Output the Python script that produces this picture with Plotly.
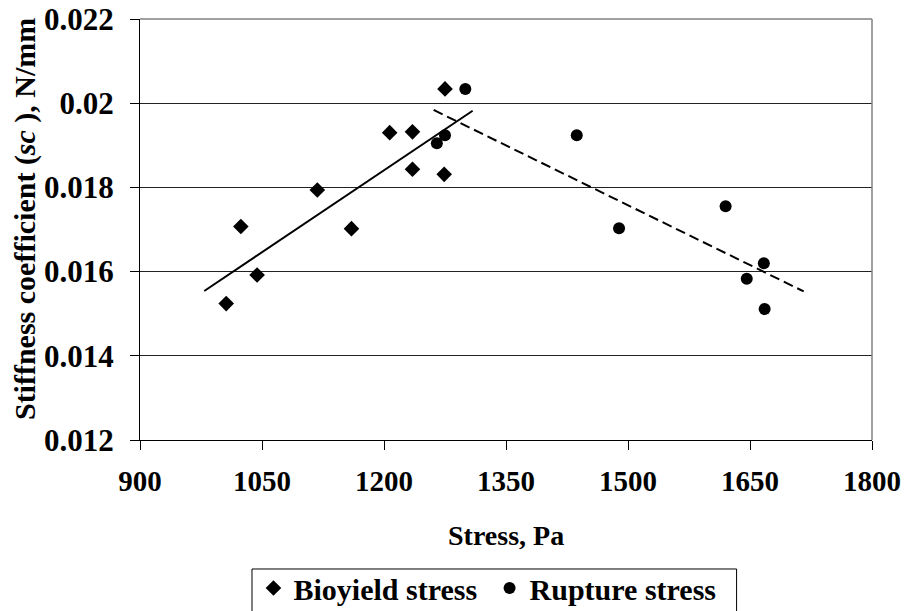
import plotly.graph_objects as go

# Bioyield stress (diamonds)
bio_x = [1006, 1024, 1044, 1118, 1160, 1207, 1235, 1235, 1274, 1275]
bio_y = [0.01524, 0.01707, 0.01592, 0.01794, 0.01702, 0.01930, 0.01932, 0.01843, 0.01831, 0.02034]

# Rupture stress (circles)
rup_x = [1265, 1275, 1300, 1437, 1489, 1620, 1646, 1667, 1668]
rup_y = [0.01905, 0.01924, 0.02034, 0.01924, 0.01703, 0.01755, 0.01583, 0.01620, 0.01511]

# Trendline end points
bio_trend_x = [979, 1309]
bio_trend_y = [0.01554, 0.01982]
rup_trend_x = [1261, 1716]
rup_trend_y = [0.01984, 0.01553]

x_ticks = [900, 1050, 1200, 1350, 1500, 1650, 1800]
y_ticks = [0.012, 0.014, 0.016, 0.018, 0.020, 0.022]
y_tick_text = ["0.012", "0.014", "0.016", "0.018", "0.02", "0.022"]

FONT = "Liberation Serif"

def f(size):
    return dict(family=FONT, size=size, color="black", weight="bold")

fig = go.Figure()
fig.add_trace(go.Scatter(x=bio_trend_x, y=bio_trend_y, mode="lines",
                         line=dict(color="black", width=2), showlegend=False, hoverinfo="skip"))
fig.add_trace(go.Scatter(x=rup_trend_x, y=rup_trend_y, mode="lines",
                         line=dict(color="black", width=2, dash="10px,5px"), showlegend=False, hoverinfo="skip"))
fig.add_trace(go.Scatter(x=bio_x, y=bio_y, mode="markers", name="Bioyield stress\u00a0",
                         marker=dict(symbol="diamond", size=12, color="black")))
fig.add_trace(go.Scatter(x=rup_x, y=rup_y, mode="markers", name="Rupture stress",
                         marker=dict(symbol="circle", size=12, color="black")))

fig.update_layout(
    width=906, height=611,
    margin=dict(l=140, r=34, t=19, b=171, autoexpand=False),
    paper_bgcolor="white", plot_bgcolor="white",
    font=f(28),
    showlegend=True,
    legend=dict(orientation="h", x=0.155, y=-0.2898, xanchor="left", yanchor="top",
                borderwidth=0, bgcolor="rgba(0,0,0,0)",
                font=f(30), itemsizing="trace", tracegroupgap=0, itemwidth=30),
    xaxis=dict(range=[900, 1800], tickvals=x_ticks, ticks="outside", ticklen=9,
               tickcolor="black", tickwidth=1, showline=True, linecolor="black", linewidth=1,
               showgrid=False, zeroline=False, ticklabelstandoff=6,
               tickfont=f(29)),
    yaxis=dict(range=[0.012, 0.022], tickvals=y_ticks, ticktext=y_tick_text,
               ticks="outside", ticklen=9, tickcolor="black", tickwidth=1,
               showline=True, linecolor="black", linewidth=1, ticklabelstandoff=10,
               showgrid=True, gridcolor="#222222", gridwidth=1, zeroline=False,
               tickfont=f(31)),
    annotations=[
        dict(text="Stiffness coefficient (<i>sc</i> ), N/mm",
             xref="paper", yref="paper", x=-0.157, y=0.525,
             xanchor="center", yanchor="middle", textangle=-90, showarrow=False,
             font=f(30)),
        dict(text="Stress, Pa",
             xref="paper", yref="paper", x=0.5, y=-0.228,
             xanchor="center", yanchor="middle", showarrow=False,
             font=f(28)),
    ],
    shapes=[dict(type="line", xref="paper", yref="paper", x0=1, x1=1, y0=0, y1=1,
                 line=dict(color="#808080", width=1.5)),
            dict(type="line", xref="paper", yref="paper", x0=0, x1=1, y0=1, y1=1,
                 line=dict(color="#808080", width=1.5)),
            dict(type="rect", xref="paper", yref="paper", x0=0.153, x1=0.815,
                 y0=-0.475, y1=-0.3064, line=dict(color="black", width=1),
                 fillcolor="rgba(0,0,0,0)", layer="below")],
)

fig.write_html("out.html")
